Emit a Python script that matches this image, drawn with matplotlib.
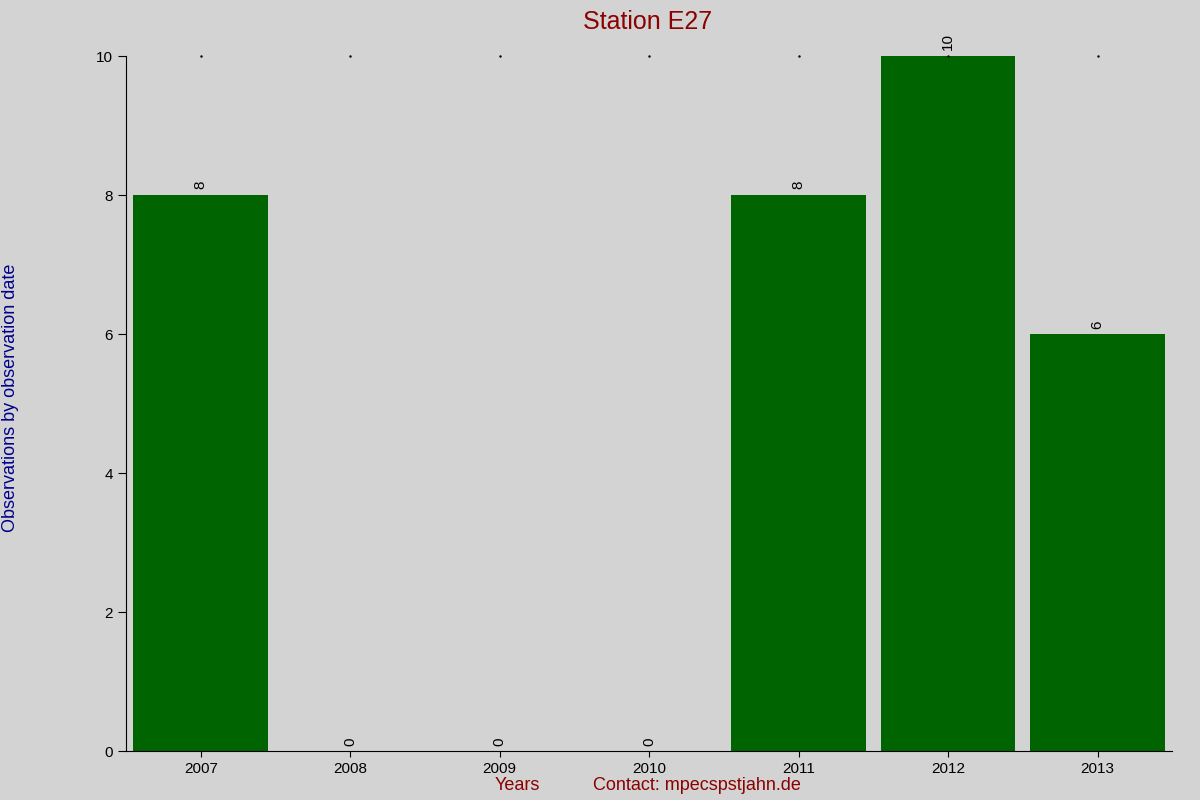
import matplotlib
matplotlib.use('Agg')
import matplotlib.pyplot as plt

years = ['2007', '2008', '2009', '2010', '2011', '2012', '2013']
counts = [8, 0, 0, 0, 8, 10, 6]

bg = '#d3d3d3'
fig = plt.figure(figsize=(12, 8), dpi=100, facecolor=bg)
ax = fig.add_axes([0.105, 0.061, 0.872, 0.869], facecolor=bg)

pos = list(range(len(years)))
ax.bar(pos, counts, width=0.9, color='#006400')
for x, v in zip(pos, counts):
    ax.text(x, v + 0.08, str(v), rotation=90, ha='center', va='bottom',
            fontsize=11, family='Liberation Sans')

ax.set_xlim(-0.5, len(years) - 0.5)
ax.set_ylim(0, 10)
ax.set_xticks(pos)
ax.set_xticklabels(years, family='Liberation Sans', fontsize=11)
ax.set_yticks([0, 2, 4, 6, 8, 10])
ax.set_yticklabels(['0', '2', '4', '6', '8', '10'], family='Liberation Sans', fontsize=11)
ax.tick_params(axis='x', length=4, direction='out')
ax.tick_params(axis='y', length=6, direction='out')
for s in ['top', 'right']:
    ax.spines[s].set_visible(False)
# small dots along the top edge
ax.plot(pos, [10] * len(pos), linestyle='none', marker='.', markersize=1.5,
        color='black', clip_on=False)

fig.text(0.54, 0.972, 'Station E27', ha='center', va='center',
         color='#8b0000', fontsize=18, family='Liberation Sans')
fig.text(0.431, 0.018, 'Years', ha='center', va='center',
         color='#8b0000', fontsize=13, family='Liberation Sans')
fig.text(0.581, 0.018, 'Contact: mpecspstjahn.de', ha='center', va='center',
         color='#8b0000', fontsize=13, family='Liberation Sans')
fig.text(0.009, 0.503, 'Observations by observation date', rotation=90,
         ha='center', va='center', color='#00008b', fontsize=13,
         family='Liberation Sans')

fig.savefig('out.png', dpi=100, facecolor=bg)
